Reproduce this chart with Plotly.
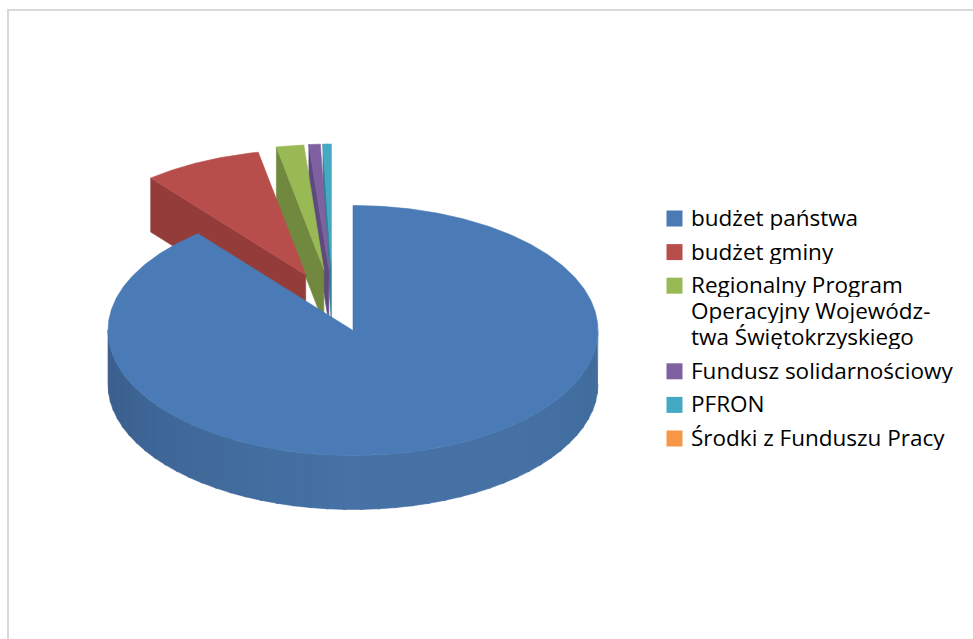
import numpy as np
import plotly.graph_objects as go

categories = ["budżet państwa", "budżet gminy",
              "Regionalny Program<br>Operacyjny Wojewódz-<br>twa Świętokrzyskiego",
              "Fundusz solidarnościowy", "PFRON", "Środki z Funduszu Pracy"]
shares = [89.1, 7.8, 1.8, 0.75, 0.55, 0.0]
top_colors = ["#4a7bb6", "#b84e4b", "#98b954", "#7f60a0", "#46a9c4", "#f79646"]
wall_colors = ["#426f9f", "#943c3a", "#71893f", "#5e4a7e", "#358296", "#c07030"]

CX, CY, RX, RY, DEPTH = 353.0, 330.5, 245.0, 125.0, 54.0
PULL_X0, PULL_X, PULL_Y = -20.5, 63.0, 61.5

def pt(deg, cx, cy, r=1.0):
    a = np.radians(deg)
    return cx + r * RX * np.sin(a), cy - r * RY * np.cos(a)

def arc(a0, a1, cx, cy):
    n = max(2, int(abs(a1 - a0) * 1.5) + 2)
    t = np.linspace(a0, a1, n)
    return pt(t, cx, cy)

fig = go.Figure()

def poly(x, y, color):
    fig.add_trace(go.Scatter(x=list(x), y=list(y), mode="lines", fill="toself",
                             fillcolor=color, line=dict(color=color, width=0.6),
                             showlegend=False, hoverinfo="skip"))

edges = np.concatenate([[0], np.cumsum(shares)]) * 3.6

for i in [4, 3, 2, 1]:
    a0, a1 = edges[i], edges[i + 1]
    mid = np.radians((a0 + a1) / 2)
    cx = CX + PULL_X0 + PULL_X * np.sin(mid)
    cy = CY - PULL_Y * np.cos(mid)
    ox, oy = pt(a0, cx, cy)
    poly([cx, ox, ox, cx, cx], [cy, oy, oy + DEPTH, cy + DEPTH, cy], wall_colors[i])
    ax, ay = arc(a0, a1, cx, cy)
    poly(np.r_[cx, ax, cx], np.r_[cy, ay, cy], top_colors[i])

# blue outer wall, shaded in bands like the original
stops_a = [90, 135, 180, 225, 270]
stops_rgb = np.array([[0x3f, 0x6a, 0x9a], [0x45, 0x71, 0xa5], [0x46, 0x72, 0xa6],
                      [0x40, 0x69, 0x99], [0x37, 0x5c, 0x8a]])
bands = np.linspace(90, 270, 46)
for b0, b1 in zip(bands[:-1], bands[1:]):
    m = (b0 + b1) / 2
    rgb = [int(np.interp(m, stops_a, stops_rgb[:, k])) for k in range(3)]
    ax, ay = arc(b0 - 0.3, b1 + 0.3, CX, CY)
    poly(np.r_[ax, ax[::-1]], np.r_[ay, ay[::-1] + DEPTH], "rgb(%d,%d,%d)" % tuple(rgb))

ax, ay = arc(edges[0], edges[1], CX, CY)
poly(np.r_[CX, ax, CX], np.r_[CY, ay, CY], top_colors[0])

# legend laid out by hand: the wrapped entry keeps its swatch on the first line
LINE_H, ROW_H, LEG_TOP = 26.0, 33.6, 218.5
TEXT_SHIFT = -1.5
y = LEG_TOP
annotations, shapes = [], []
for name, color in zip(categories, top_colors):
    shapes.append(dict(type="rect", x0=666.5, x1=682.5, y0=y - 8, y1=y + 8,
                       fillcolor=color, line=dict(width=0), layer="above"))
    lines = name.split("<br>")
    for j, line in enumerate(lines):
        annotations.append(dict(x=690, y=y + j * LINE_H + TEXT_SHIFT, text=line, showarrow=False,
                                xanchor="left", yanchor="middle", borderpad=0, height=26,
                                font=dict(family="Open Sans", size=22.5, color="#000000")))
    y += (len(lines) - 1) * LINE_H + ROW_H

shapes.append(dict(type="rect", x0=8, y0=10, x1=1010, y1=680,
                   line=dict(color="#d9d9d9", width=2), layer="below"))

fig.update_layout(
    width=973, height=639, margin=dict(l=0, r=0, t=0, b=0),
    paper_bgcolor="white", plot_bgcolor="white", showlegend=False,
    xaxis=dict(range=[0, 973], visible=False, fixedrange=True),
    yaxis=dict(range=[639, 0], visible=False, fixedrange=True),
    font=dict(family="Open Sans", size=22.5, color="#000000"),
    shapes=shapes, annotations=annotations,
)
fig.write_html("out.html", config=dict(displayModeBar=False),
               post_script="document.body.style.margin='0';")
